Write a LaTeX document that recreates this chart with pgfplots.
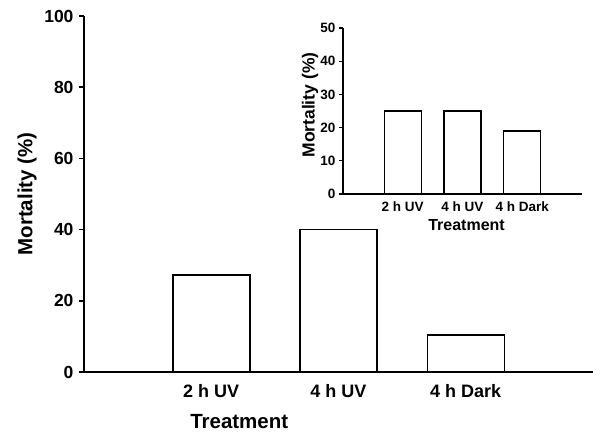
\documentclass[border=0pt]{standalone}
\usepackage{pgfplots}
\pgfplotsset{compat=1.18}
\usepackage{fontspec}
\setmainfont{Liberation Sans}
\begin{document}
\begin{tikzpicture}
\path[use as bounding box] (0bp,0bp) rectangle (602bp,438bp);
\begin{axis}[
  at={(84bp,66bp)}, anchor=south west, scale only axis,
  width=509bp, height=356bp,
  xmin=0, xmax=4, ymin=0, ymax=100,
  axis x line=bottom, axis y line=left,
  axis line style={-, line width=1.5bp},
  xtick={1,2,3}, xticklabels={2 h UV, 4 h UV, 4 h Dark},
  ytick={0,20,40,60,80,100}, yticklabels={0,20,40,60,80,100},
  tick align=outside, major tick length=5bp,
  x tick style={draw=none},
  y tick style={line width=1.5bp, black},
  yticklabel style={font=\fontsize{17.5bp}{19bp}\selectfont\bfseries, xshift=-2bp},
  xticklabel style={font=\fontsize{18bp}{20bp}\selectfont\bfseries, yshift=-4bp},
  label style={font=\fontsize{20.5bp}{22bp}\selectfont\bfseries},
  xlabel={Treatment}, ylabel={Mortality (\%)},
  xlabel style={at={(axis description cs:0.305,-0.14)}, anchor=center},
  ylabel style={at={(axis description cs:-0.112,0.5)}, anchor=center},
  ybar, bar width=77bp,
]
\addplot[draw=black, fill=white, line width=1.5bp] coordinates {(1,27.2) (2,40) (3,10.4)};
\end{axis}
\begin{axis}[
  at={(343bp,244bp)}, anchor=south west, scale only axis,
  width=239bp, height=166bp,
  xmin=0, xmax=4, ymin=0, ymax=50,
  axis x line=bottom, axis y line=left,
  axis line style={-, line width=1.2bp},
  xtick={1,2,3}, xticklabels={2 h UV, 4 h UV, 4 h Dark},
  ytick={0,10,20,30,40,50}, yticklabels={0,10,20,30,40,50},
  tick align=outside, major tick length=4bp,
  x tick style={draw=none},
  y tick style={line width=1.2bp, black},
  tick label style={font=\fontsize{13.5bp}{15bp}\selectfont\bfseries},
  xlabel style={font=\fontsize{16bp}{18bp}\selectfont\bfseries},
  ylabel style={font=\fontsize{17.5bp}{19bp}\selectfont\bfseries},
  xlabel={Treatment}, ylabel={Mortality (\%)},
  xlabel style={at={(axis description cs:0.517,-0.187)}, anchor=center},
  ylabel style={at={(axis description cs:-0.138,0.536)}, anchor=center},
  ybar, bar width=37bp,
]
\addplot[draw=black, fill=white, line width=1.2bp] coordinates {(1,25) (2,25) (3,19)};
\end{axis}
\end{tikzpicture}
\end{document}
